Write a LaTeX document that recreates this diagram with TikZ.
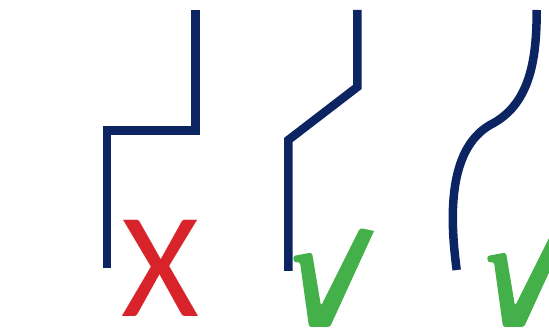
\documentclass[tikz,border=0pt]{standalone}
\usepackage{fontspec}
\newfontfamily\signfont{Carlito}
\definecolor{navy}{RGB}{12,36,97}
\definecolor{xred}{RGB}{216,35,42}
\definecolor{okgreen}{RGB}{68,176,73}
\begin{document}
\begin{tikzpicture}[x=1pt,y=-1pt,
  wire/.style={draw=navy,line width=8.5pt,line cap=butt,line join=miter},
  sign/.style={inner sep=0pt,anchor=base,font=\signfont\fontsize{150}{150}\selectfont},
  checkmark/.pic={
    \fill[okgreen,rounded corners=2.5pt]
      (0,4) -- (19,0.5) -- (28,54) -- (67,-24) [sharp corners]-- (81,-21)
      [rounded corners=2.5pt]-- (37,75) -- (16,75) -- (7,10) -- (1,10.5) -- cycle;
  }]
\useasboundingbox (0,0) rectangle (549,328);
\coordinate (a1) at (107,268);
\coordinate (a2) at (107,130.5);
\coordinate (a3) at (195.7,130.5);
\coordinate (a4) at (195.7,10);
\draw[wire] (a1) -- (a2) -- (a3) -- (a4);
\coordinate (b1) at (288.3,271);
\coordinate (b2) at (288.3,140);
\coordinate (b3) at (357.3,87);
\coordinate (b4) at (357.3,10);
\draw[wire] (b1) -- (b2) -- (b3) -- (b4);
\coordinate (c1) at (456.7,270);
\coordinate (c2) at (490,125);
\coordinate (c3) at (536.7,10);
\draw[wire] (c1) .. controls (450,220) and (447,150) .. (c2)
               .. controls (530,105) and (536.7,60) .. (c3);
\node[sign,text=xred] (x) at (160,317) {X};
\pic (v1) at (293,252) {checkmark};
\pic (v2) at (487,252) {checkmark};
\end{tikzpicture}
\end{document}
